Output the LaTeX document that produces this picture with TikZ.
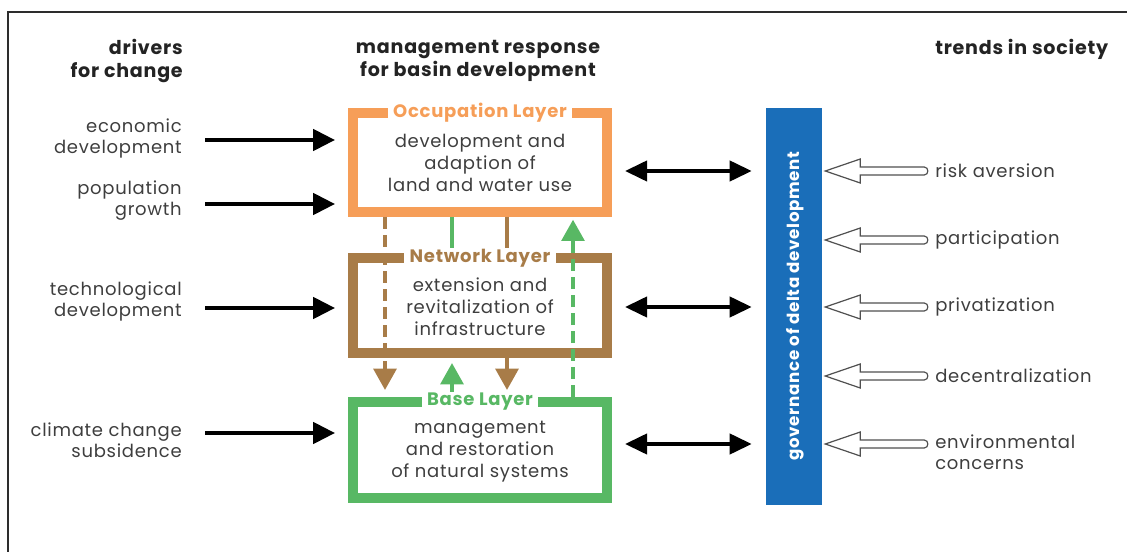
\documentclass[tikz,border=0pt]{standalone}
\usepackage{fontspec}
\setmainfont{Poppins}[LetterSpace=4]
\usetikzlibrary{arrows.meta,calc}
\definecolor{occC}{RGB}{246,158,88}
\definecolor{netC}{RGB}{168,124,72}
\definecolor{baseC}{RGB}{88,184,100}
\definecolor{govC}{RGB}{26,110,185}
\definecolor{txtC}{RGB}{62,62,62}
\definecolor{hdrC}{RGB}{35,35,35}
\definecolor{frameC}{RGB}{45,45,45}
\definecolor{hollowC}{RGB}{80,80,80}
\tikzset{
  layerbox/.style={draw=#1, line width=7.5pt, inner sep=0pt, minimum width=190.5pt},
  ltitle/.style={fill=white, text=#1, font=\bfseries\fontsize{13.5}{15}\selectfont, inner xsep=4pt, inner ysep=1pt, minimum height=9pt},
  bodytxt/.style={text=txtC, align=center, font=\fontsize{13.5}{16.5}\selectfont, inner sep=0pt},
  llabel/.style={text=txtC, align=right, font=\fontsize{13.5}{15.75}\selectfont, inner sep=0pt, anchor=east},
  rlabel/.style={text=txtC, align=left, font=\fontsize{13.5}{16}\selectfont, inner sep=0pt, anchor=west},
  header/.style={text=hdrC, font=\bfseries\fontsize{14.3}{17.5}\selectfont, inner sep=0pt},
  blk/.style={draw=black, line width=3pt, -{Triangle[length=16.5pt,width=16pt]}},
  dbl/.style={draw=black, line width=3pt, {Triangle[length=16.5pt,width=15pt]}-{Triangle[length=16.5pt,width=15pt]}},
  lyarrow/.style={draw=#1, line width=3pt, -{Triangle[length=16pt,width=17pt]}},
  lyline/.style={draw=#1, line width=3pt},
  dashy/.style={dash pattern=on 9pt off 4.5pt},
  hollow/.style={draw=hollowC, fill=white, line width=0.9pt, line join=miter},
}
\begin{document}
\begin{tikzpicture}[x=0.75pt,y=-0.75pt]
\useasboundingbox (0,0) rectangle (1127,552);
% frame
\draw[frameC, line width=1.6pt] (8,552) -- (8,12) -- (1127,12);

% headers
\node[header, align=right, anchor=east] (hdrL) at (183,61) {drivers\\for change};
\node[header, align=center] (hdrM) at (478,61) {management response\\for basin development};
\node[header, anchor=west] (hdrR) at (935,49) {trends in society};

% layer boxes
\node[layerbox=occC, minimum height=74.25pt] (occ) at (480,162.5) {};
\node[layerbox=netC, minimum height=71.25pt] (net) at (480,305.5) {};
\node[layerbox=baseC, minimum height=72pt] (base) at (480,450) {};

% governance bar
\node[fill=govC, minimum width=42pt, minimum height=297.75pt, inner sep=0pt] (gov) at (794,306.5) {};
\node[rotate=90, text=white, font=\bfseries\fontsize{12.5}{14}\selectfont, inner sep=0pt] (govT) at (795,306) {governance of delta development};

% x positions of vertical connectors
\coordinate (xA) at (385,0);
\coordinate (xB) at (452,0);
\coordinate (xC) at (507,0);
\coordinate (xD) at (573,0);

% vertical connectors between layers
\draw[lyarrow=netC, dashy, shorten >=5.25pt] (occ.south -| xA) -- (base.north -| xA);
\draw[lyarrow=baseC, dashy, shorten >=2pt] (base.north -| xD) -- (occ.south -| xD);
\draw[lyline=baseC] (occ.south -| xB) -- (net.north -| xB);
\draw[lyline=netC] (occ.south -| xC) -- (net.north -| xC);
\draw[lyarrow=baseC, shorten >=3.75pt] (base.north -| xB) -- (net.south -| xB);
\draw[lyarrow=netC, shorten >=5.25pt] (net.south -| xC) -- (base.north -| xC);

% layer titles
\node[ltitle=occC] (occT) at ($(occ.north)+(0,5)$) {Occupation Layer};
\node[ltitle=netC] (netT) at ($(net.north)+(0,5)$) {Network Layer};
\node[ltitle=baseC] (baseT) at ($(base.north)+(0,5)$) {Base Layer};

% layer texts
\node[bodytxt] (occX) at (480,163) {development and\\adaption of\\land and water use};
\node[bodytxt] (netX) at (480,307) {extension and\\revitalization of\\infrastructure};
\node[bodytxt] (baseX) at (480,452) {management\\and restoration\\of natural systems};

% drivers
\node[llabel] (dA) at (182,138.5) {economic\\development};
\node[llabel] (dB) at (182,200.5) {population\\growth};
\node[llabel] (dC) at (182,301.5) {technological\\development};
\node[llabel] (dD) at (182,440.5) {climate change\\subsidence};
\coordinate (lA) at (205,140);
\coordinate (lB) at (205,204);
\coordinate (lC) at (205,308);
\coordinate (lD) at (205,433);
\draw[blk, shorten >=9.75pt] (lA) -- (occ.west |- lA);
\draw[blk, shorten >=9.75pt] (lB) -- (occ.west |- lB);
\draw[blk, shorten >=9.75pt] (lC) -- (net.west |- lC);
\draw[blk, shorten >=9.75pt] (lD) -- (base.west |- lD);

% trends
\node[rlabel] (tA) at (935,171) {risk aversion};
\node[rlabel] (tB) at (935,240) {participation};
\node[rlabel] (tC) at (935,307) {privatization};
\node[rlabel] (tD) at (935,376) {decentralization};
\node[rlabel] (tE) at (935,452) {environmental\\concerns};
\coordinate (rA) at (928,171);
\coordinate (rB) at (928,240);
\coordinate (rC) at (928,307);
\coordinate (rD) at (928,376);
\coordinate (rE) at (928,444);
\foreach \r in {rA,rB,rC,rD,rE}{
  \draw[hollow] ($(gov.east |- \r)+(3,0)$) -- ++(35,-12) -- ++(0,8) -- ++(64,0)
     to[out=0,in=0,looseness=1.5] ++(0,8) -- ++(-64,0) -- ++(0,8) -- cycle;
}

% double arrows between layers and governance
\draw[dbl, shorten <=9.75pt, shorten >=10.5pt] (occ.east |- rA) -- (gov.west |- rA);
\draw[dbl, shorten <=9.75pt, shorten >=10.5pt] (net.east |- rC) -- (gov.west |- rC);
\draw[dbl, shorten <=9.75pt, shorten >=10.5pt] (base.east |- rE) -- (gov.west |- rE);
\end{tikzpicture}
\end{document}
